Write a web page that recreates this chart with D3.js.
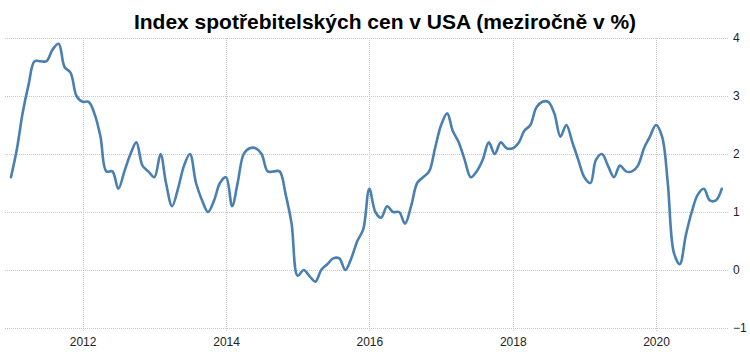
<!DOCTYPE html>
<html>
<head>
<meta charset="utf-8">
<script src="https://cdn.jsdelivr.net/npm/d3@7"></script>
<style>
  html, body { margin: 0; padding: 0; background: #fff; }
  svg { display: block; }
</style>
</head>
<body>
<svg id="chart" width="750" height="352"></svg>
<script>
const title = "Index spotřebitelských cen v USA (meziročně v %)";
const startYear = 2011;
const values = [
  1.6, 2.1, 2.7, 3.2, 3.6, 3.6, 3.6, 3.8, 3.9, 3.5, 3.4, 3.0,
  2.9, 2.9, 2.7, 2.3, 1.7, 1.7, 1.4, 1.7, 2.0, 2.2, 1.8, 1.7,
  1.6, 2.0, 1.5, 1.1, 1.4, 1.8, 2.0, 1.5, 1.2, 1.0, 1.2, 1.5,
  1.6, 1.1, 1.5, 2.0, 2.1, 2.1, 2.0, 1.7, 1.7, 1.7, 1.3, 0.8,
  -0.1, 0.0, -0.1, -0.2, 0.0, 0.1, 0.2, 0.2, 0.0, 0.2, 0.5, 0.7,
  1.4, 1.0, 0.9, 1.1, 1.0, 1.0, 0.8, 1.1, 1.5, 1.6, 1.7, 2.1,
  2.5, 2.7, 2.4, 2.2, 1.9, 1.6, 1.7, 1.9, 2.2, 2.0, 2.2, 2.1,
  2.1, 2.2, 2.4, 2.5, 2.8, 2.9, 2.9, 2.7, 2.3, 2.5, 2.2, 1.9,
  1.6, 1.5, 1.9, 2.0, 1.8, 1.6, 1.8, 1.7, 1.7, 1.8, 2.1, 2.3,
  2.5, 2.3, 1.5, 0.3, 0.1, 0.6, 1.0, 1.3, 1.4, 1.2, 1.2, 1.4
];
const xTickYears = [2012, 2014, 2016, 2018, 2020];
const yTicks = [-1, 0, 1, 2, 3, 4];

const data = values.map((v, i) => ({ date: new Date(startYear, i, 1), value: v }));

const svg = d3.select("#chart");
const plotLeft = 5, plotRight = 728, plotTop = 38, plotBottom = 328;

const x = d3.scaleTime()
  .domain([new Date(2012, 0, 1), new Date(2020, 0, 1)])
  .range([82.6, 656]);
const y = d3.scaleLinear().domain([-1, 4]).range([plotBottom, plotTop]);

// horizontal gridlines
svg.append("g").selectAll("line").data(yTicks).join("line")
  .attr("x1", plotLeft).attr("x2", plotRight)
  .attr("y1", d => y(d) + 0.5).attr("y2", d => y(d) + 0.5)
  .attr("stroke", "#c8c8c8").attr("stroke-width", 1)
  .attr("stroke-dasharray", "1,1");

// vertical gridlines
const xTickDates = xTickYears.map(yr => new Date(yr, 0, 1));
svg.append("g").selectAll("line").data(xTickDates).join("line")
  .attr("x1", d => Math.round(x(d)) + 0.5).attr("x2", d => Math.round(x(d)) + 0.5)
  .attr("y1", plotTop).attr("y2", plotBottom + 4)
  .attr("stroke", "#c8c8c8").attr("stroke-width", 1)
  .attr("stroke-dasharray", "1,1");

// y axis labels (right)
const yAxis = d3.axisRight(y).tickValues(yTicks).tickSize(0).tickPadding(0).tickFormat(d3.format("d"));
const gy = svg.append("g").attr("transform", `translate(733,0)`).call(yAxis);
gy.select(".domain").remove();
gy.selectAll("text").attr("font-family", "Liberation Sans, Arial, sans-serif")
  .attr("font-size", 12).attr("fill", "#222");

// x axis labels
const xAxis = d3.axisBottom(x).tickValues(xTickDates).tickSize(0).tickPadding(0).tickFormat(d3.timeFormat("%Y"));
const gx = svg.append("g").attr("transform", `translate(0,337)`).call(xAxis);
gx.select(".domain").remove();
gx.selectAll("text").attr("font-family", "Liberation Sans, Arial, sans-serif")
  .attr("font-size", 12).attr("fill", "#222");

// line
const line = d3.line()
  .x(d => x(d.date))
  .y(d => y(d.value))
  .curve(d3.curveCatmullRom.alpha(0.5));
svg.append("path").datum(data)
  .attr("d", line)
  .attr("fill", "none")
  .attr("stroke", "#4a7fb1")
  .attr("stroke-width", 2.6)
  .attr("stroke-linejoin", "round")
  .attr("stroke-linecap", "round");

// title
svg.append("text")
  .attr("x", 385).attr("y", 29)
  .attr("text-anchor", "middle")
  .attr("font-family", "Liberation Sans, Arial, sans-serif")
  .attr("font-weight", "bold")
  .attr("font-size", 21)
  .attr("fill", "#000")
  .text(title);
</script>
</body>
</html>
